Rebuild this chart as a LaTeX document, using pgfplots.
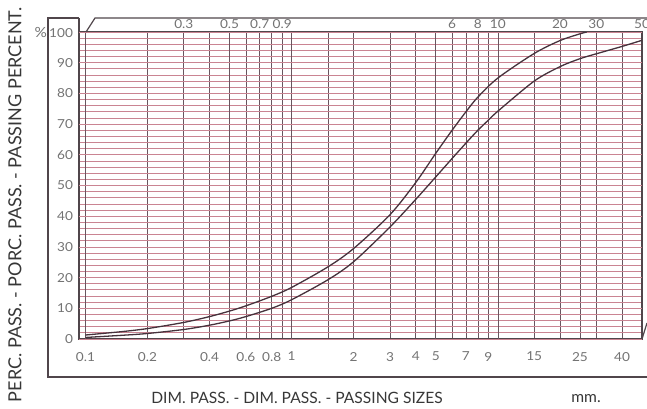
\documentclass[border=0pt]{standalone}
\usepackage{pgfplots}
\pgfplotsset{compat=1.18}
\usepackage{fontspec}
\setmainfont{Lato}
\newfontfamily\tickfont[FakeStretch=1.1]{Lato}

\definecolor{gridpink}{RGB}{202,132,146}
\definecolor{gridmaj}{RGB}{95,45,55}
\definecolor{gridvert}{RGB}{105,85,95}
\definecolor{framec}{RGB}{80,70,75}
\definecolor{curvec}{RGB}{70,50,60}
\definecolor{tickc}{RGB}{115,115,115}
\definecolor{labc}{RGB}{55,55,55}

% geometry shared by the three overlaid axes
\pgfplotsset{every axis/.append style={
    at={(39.5pt,34.5pt)}, anchor=south west,
    scale only axis, width=281.5pt, height=153.5pt,
    xmin=0.0931, xmax=50, ymin=0, ymax=100,
    major tick length=0pt,
}}

\begin{document}
\begin{tikzpicture}
\useasboundingbox (0,0) rectangle (323.5pt,204pt);

% grid paper and curves
\begin{axis}[xmode=log,
  axis line style={draw=framec, line width=0.6pt},
  xtick={0.2,0.3,0.4,0.6,0.7,0.8,0.9,1.5,2,3,4,6,7,8,9,15,20,25,30,40},
  ytick={0,2,...,100},
  minor xtick={}, minor ytick={},
  xticklabel={\relax}, yticklabel={\relax},
  grid=major,
  x grid style={draw=gridvert, line width=0.35pt},
  y grid style={draw=gridpink, line width=0.4pt},
  extra x ticks={0.1,0.5,1,5,10},
  extra y ticks={0,10,...,100},
  extra x tick style={grid style={draw=gridmaj, line width=0.75pt}, xticklabel={\relax}},
  extra y tick style={grid style={draw=gridmaj, line width=0.7pt}, yticklabel={\relax}},
]
\addplot[curvec, line width=0.65pt, smooth] coordinates {
  (0.1,1.3) (0.15,2.4) (0.2,3.4) (0.3,5.4) (0.4,7.3) (0.5,9.1)
  (0.6,10.8) (0.8,13.9) (1,16.8) (1.5,23.5) (2,29.5) (3,40.5) (4,51)
  (5,60.5) (6,68) (7,74) (8,78.8) (10,85) (15,93) (20,97.2)
  (25,99.4) (27,100)
};
\addplot[curvec, line width=0.65pt, smooth] coordinates {
  (0.1,0.5) (0.15,1.2) (0.2,1.8) (0.3,3.1) (0.4,4.5) (0.5,5.9)
  (0.6,7.3) (0.8,10) (1,12.8) (1.5,19.3) (2,25.2) (3,36.5) (4,45.5)
  (5,52.8) (6,58.8) (7,63.8) (8,68) (9,71.3) (10,74.2) (15,84)
  (20,88.7) (25,91.3) (30,92.9) (40,95.3) (50,97.3)
};
\end{axis}

% bottom and left tick labels
\begin{axis}[xmode=log,
  axis line style={draw=none},
  xtick={0.1,0.2,0.4,0.6,0.8,1,2,3,4,5,7,9,15,25,40},
  xticklabels={0.1,0.2,0.4,0.6,0.8,1,2,3,4,5,7,9,15,25,40},
  ytick={0,10,...,100},
  yticklabels={0,10,20,30,40,50,60,70,80,90,{\scriptsize\%\,}100},
  tick label style={font=\tickfont\fontsize{6.2}{7}\selectfont, text=tickc},
  xticklabel style={yshift=-3pt},
  yticklabel style={xshift=0.5pt},
]
\end{axis}

% top tick labels
\begin{axis}[xmode=log,
  axis line style={draw=none},
  xticklabel pos=top,
  xtick={0.3,0.5,0.7,0.9,6,8,10,20,30,50},
  xticklabels={0.3,0.5,0.7,0.9,6,8,10,20,30,50},
  ytick=\empty,
  tick label style={font=\tickfont\fontsize{6.2}{7}\selectfont, text=tickc},
  xticklabel style={yshift=-2pt},
]
\end{axis}

% frame of the printed form and titles, in pixel units of the page
\begin{scope}[x=0.5pt, y=-0.5pt, shift={(0,204pt)}]
  \draw[framec, line width=0.6pt] (79,18) -- (48,18) -- (48,377) -- (647,377);
  \draw[framec, line width=0.6pt] (79,18) -- (79,32);
  \draw[framec, line width=0.6pt] (86,32) -- (95,18) -- (647,18);
  \draw[framec, line width=0.6pt] (642,339) -- (647,323);
  \node[rotate=90, text=labc, font=\fontsize{9}{10}\selectfont]
    at (15,205) {PERC. PASS. - PORC. PASS. - PASSING PERCENT.};
  \node[text=labc, font=\fontsize{7.8}{10}\selectfont]
    at (297,398) {DIM. PASS. - DIM. PASS. - PASSING SIZES};
  \node[text=labc, font=\fontsize{7.8}{10}\selectfont]
    at (586,399) {mm.};
\end{scope}
\end{tikzpicture}
\end{document}
